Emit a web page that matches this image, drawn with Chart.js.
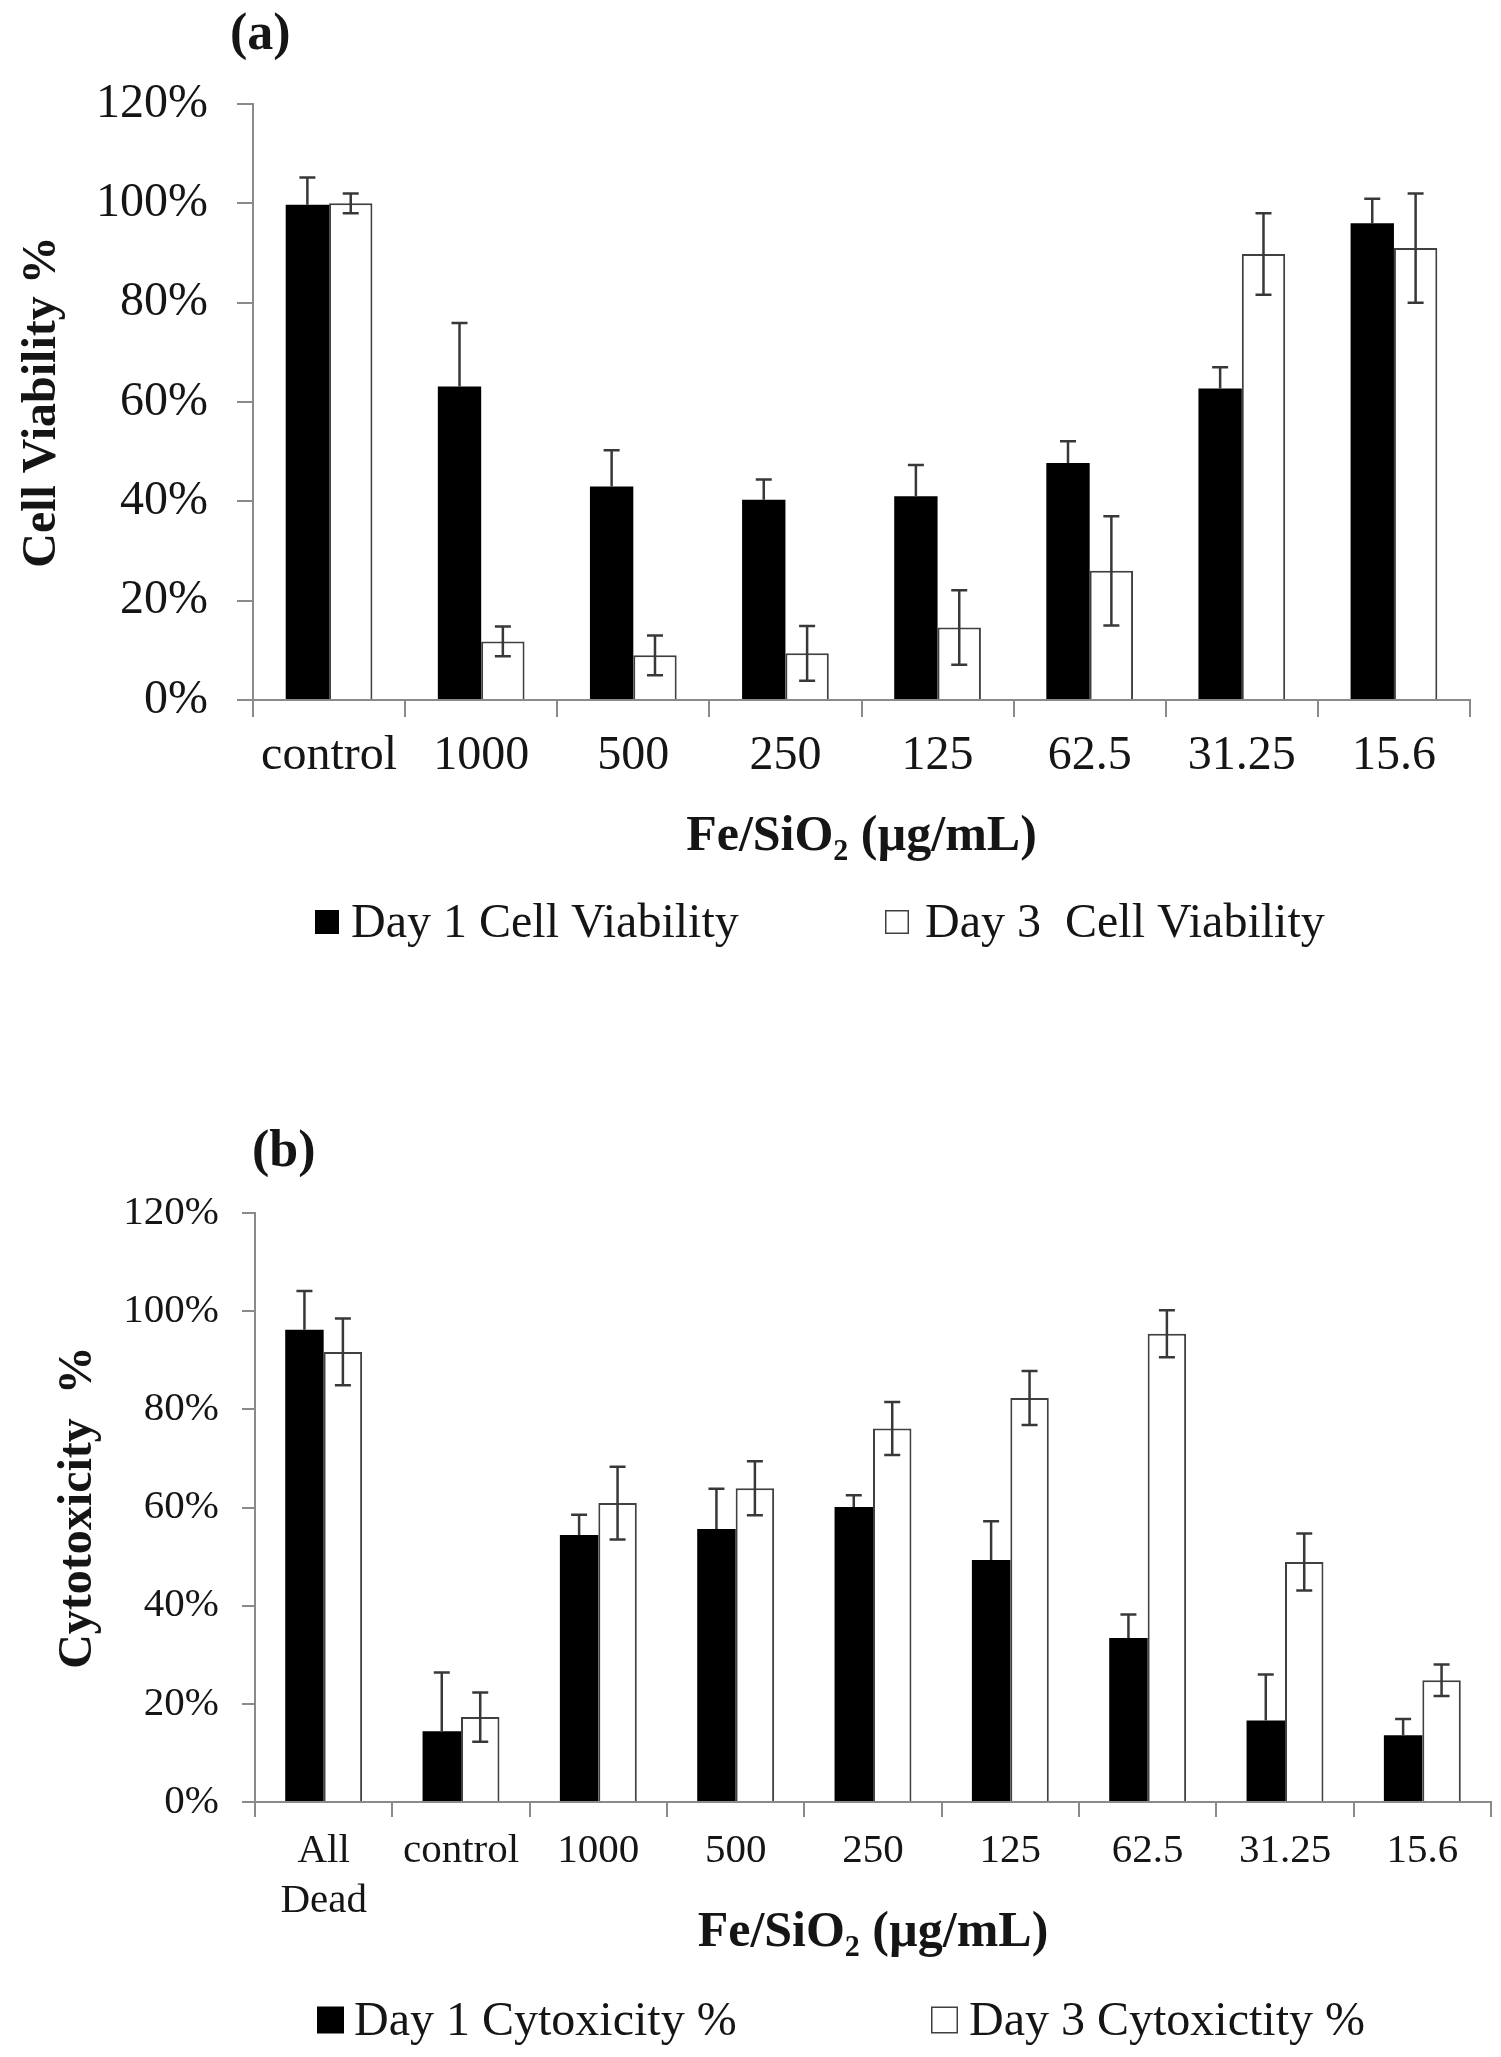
<!DOCTYPE html>
<html>
<head>
  <title>Cell Viability and Cytotoxicity</title>
  <script src="https://cdn.jsdelivr.net/npm/chart.js"></script>
  <style>
    body {
      margin: 0;
      background: #fff;
    }
    canvas {
      position: absolute;
      left: 0;
    }
    #chartA { top: 0; }
    #chartB { top: 1040px; }
  </style>
</head>
<body>
  <canvas id="chartA" width="1501" height="1040"></canvas>
  <canvas id="chartB" width="1501" height="1017"></canvas>

  <script>
    // panel (a): cell viability
    const doseLabelsA = ['control', '1000', '500', '250', '125', '62.5', '31.25', '15.6'];
    const viabilityDay1 = [99.7, 63.1, 43.0, 40.3, 41.0, 47.7, 62.7, 96.0];
    const viabilityDay1Err = [5.5, 12.8, 7.3, 4.1, 6.3, 4.4, 4.3, 4.9];
    const viabilityDay3 = [100, 11.8, 9.0, 9.4, 14.6, 26.0, 89.8, 91.0];
    const viabilityDay3Err = [2.0, 3.0, 4.0, 5.5, 7.5, 11.0, 8.2, 11.0];

    // panel (b): cytotoxicity
    const doseLabelsB = [['All', 'Dead'], 'control', '1000', '500', '250', '125', '62.5', '31.25', '15.6'];
    const cytoDay1 = [96.2, 14.4, 54.4, 55.6, 60.1, 49.3, 33.4, 16.6, 13.6];
    const cytoDay1Err = [7.9, 12.0, 4.1, 8.2, 2.4, 7.9, 4.8, 9.4, 3.3];
    const cytoDay3 = [91.7, 17.3, 60.9, 63.9, 76.1, 82.3, 95.4, 48.9, 24.8];
    const cytoDay3Err = [6.8, 5.0, 7.4, 5.5, 5.4, 5.5, 4.8, 5.8, 3.2];

    const yTicks = [0, 20, 40, 60, 80, 100, 120];

    const SERIF = "'Liberation Serif', 'Times New Roman', serif";
    const AXIS_GRAY = '#8a8a8a';
    const TEXT = '#151515';

    Chart.defaults.font.family = SERIF;
    Chart.defaults.color = TEXT;

    // error bars, drawn on top of the bars
    // (the lower whisker of a black bar is hidden inside it, so skip it there)
    const errorBars = {
      id: 'errorBars',
      afterDatasetsDraw(chart) {
        const ctx = chart.ctx;
        const y = chart.scales.y;
        ctx.save();
        ctx.strokeStyle = '#383838';
        ctx.lineWidth = 2.5;
        chart.data.datasets.forEach((ds, i) => {
          const meta = chart.getDatasetMeta(i);
          meta.data.forEach((bar, j) => {
            const v = ds.data[j];
            const e = ds.errors[j];
            const top = y.getPixelForValue(v + e);
            const bottom = ds.hideLowerError ? y.getPixelForValue(v) : y.getPixelForValue(v - e);
            ctx.beginPath();
            ctx.moveTo(bar.x, top);
            ctx.lineTo(bar.x, bottom);
            ctx.moveTo(bar.x - 8, top);
            ctx.lineTo(bar.x + 8, top);
            if (!ds.hideLowerError) {
              ctx.moveTo(bar.x - 8, bottom);
              ctx.lineTo(bar.x + 8, bottom);
            }
            ctx.stroke();
          });
        });
        ctx.restore();
      }
    };

    // panel letter and the legend row under the axis title
    const extras = {
      id: 'extras',
      afterDraw(chart, args, opts) {
        const ctx = chart.ctx;
        ctx.save();
        ctx.fillStyle = TEXT;
        ctx.textBaseline = 'middle';
        ctx.textAlign = 'left';
        ctx.font = 'bold 52px ' + SERIF;
        ctx.fillText(opts.panel, opts.panelX, opts.panelY);

        ctx.font = opts.legendSize + 'px ' + SERIF;
        chart.data.datasets.forEach((ds, i) => {
          const bx = opts.legendX[i];
          const s = opts.box;
          const by = opts.legendY - s / 2;
          ctx.fillStyle = ds.backgroundColor;
          ctx.fillRect(bx, by, s, s);
          if (ds.borderWidth) {
            ctx.strokeStyle = ds.borderColor;
            ctx.lineWidth = 1.5;
            ctx.strokeRect(bx + 0.75, by + 0.75, s - 1.5, s - 1.5);
          }
          ctx.fillStyle = TEXT;
          ctx.fillText(ds.label, opts.legendTextX[i], opts.legendY + 2);
        });
        ctx.restore();
      }
    };

    function makeChart(id, cfg) {
      const ctx = document.getElementById(id).getContext('2d');
      return new Chart(ctx, {
        type: 'bar',
        data: {
          labels: cfg.labels,
          datasets: [
            {
              label: cfg.names[0],
              data: cfg.day1,
              errors: cfg.err1,
              hideLowerError: true,
              backgroundColor: '#000',
              borderWidth: 0,
              categoryPercentage: cfg.catPct,
              barPercentage: 1.0
            },
            {
              label: cfg.names[1],
              data: cfg.day3,
              errors: cfg.err3,
              backgroundColor: '#fff',
              borderColor: '#404040',
              borderWidth: 2,
              categoryPercentage: cfg.catPct,
              barPercentage: 1.0
            }
          ]
        },
        options: {
          responsive: false,
          devicePixelRatio: 1,
          animation: false,
          events: [],
          layout: { padding: cfg.padding },
          plugins: {
            legend: { display: false },
            tooltip: { enabled: false },
            extras: cfg.extras
          },
          scales: {
            x: {
              grid: {
                drawOnChartArea: false,
                offset: true,
                color: AXIS_GRAY,
                lineWidth: 2,
                tickLength: cfg.xTickLen
              },
              border: { color: AXIS_GRAY, width: 2 },
              ticks: {
                color: TEXT,
                padding: cfg.xPad,
                maxRotation: 0,
                autoSkip: false,
                font: { size: cfg.tickSize }
              },
              title: {
                display: true,
                text: 'Fe/SiO\u2082 (\u00b5g/mL)',
                color: TEXT,
                padding: 0,
                font: { size: 50, weight: 'bold' }
              },
              afterFit(scale) { scale.height = cfg.xHeight; }
            },
            y: {
              min: 0,
              max: 120,
              afterBuildTicks(scale) {
                scale.ticks = yTicks.map(v => ({ value: v }));
              },
              grid: {
                drawOnChartArea: false,
                color: AXIS_GRAY,
                lineWidth: 2,
                tickLength: cfg.yTickLen
              },
              border: { color: AXIS_GRAY, width: 2 },
              ticks: {
                color: TEXT,
                padding: cfg.yPad,
                font: { size: cfg.tickSize },
                callback: value => value + '%'
              },
              title: {
                display: true,
                text: cfg.yTitle,
                color: TEXT,
                padding: { top: cfg.yTitlePad, bottom: 0 },
                font: { size: 48, weight: 'bold' }
              },
              afterFit(scale) { scale.width = cfg.yWidth; }
            }
          }
        },
        plugins: [errorBars, extras]
      });
    }

    makeChart('chartA', {
      labels: doseLabelsA,
      names: ['Day 1 Cell Viability', 'Day 3  Cell Viability'],
      day1: viabilityDay1, err1: viabilityDay1Err,
      day3: viabilityDay3, err3: viabilityDay3Err,
      catPct: 0.57,
      padding: { top: 104, bottom: 173, left: 0, right: 31 },
      tickSize: 48,
      xTickLen: 17, xPad: 11, xHeight: 167,
      yTickLen: 16, yPad: 29, yWidth: 253,
      yTitle: 'Cell Viability %', yTitlePad: 14,
      extras: {
        panel: '(a)', panelX: 230, panelY: 36,
        legendSize: 48, box: 24, legendY: 922,
        legendX: [315, 885], legendTextX: [351, 925]
      }
    });

    makeChart('chartB', {
      labels: doseLabelsB,
      names: ['Day 1 Cytoxicity %', 'Day 3 Cytoxictity %'],
      day1: cytoDay1, err1: cytoDay1Err,
      day3: cytoDay3, err3: cytoDay3Err,
      catPct: 0.56,
      padding: { top: 173, bottom: 94, left: 0, right: 10 },
      tickSize: 41,
      xTickLen: 15, xPad: 10, xHeight: 161,
      yTickLen: 13, yPad: 23, yWidth: 255,
      yTitle: 'Cytotoxicity  %', yTitlePad: 50,
      extras: {
        panel: '(b)', panelX: 252, panelY: 113,
        legendSize: 48, box: 27, legendY: 980,
        legendX: [317, 931], legendTextX: [354, 969]
      }
    });
  </script>
</body>
</html>
